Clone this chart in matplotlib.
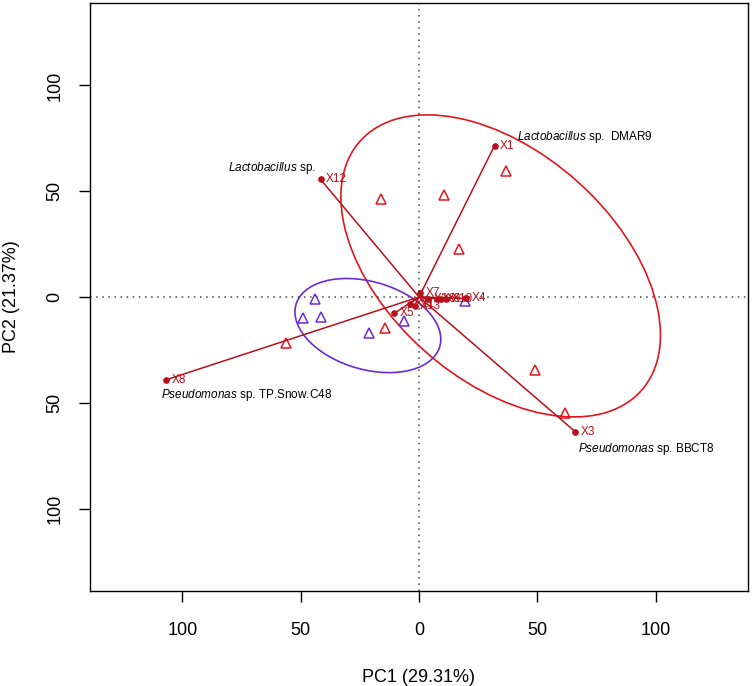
import numpy as np
import matplotlib
matplotlib.use("Agg")
import matplotlib.pyplot as plt
from matplotlib.patches import Ellipse

plt.rcParams['font.family'] = ['Liberation Sans', 'DejaVu Sans']
plt.rcParams['mathtext.fontset'] = 'custom'
plt.rcParams['mathtext.it'] = 'Liberation Sans:italic'
plt.rcParams['mathtext.rm'] = 'Liberation Sans'

# ---- data ----
var_names = ["X1", "X2", "X3", "X4", "X5", "X6", "X7", "X8", "X9", "X10", "X11", "X12", "X13"]
var_pc1 = [31.9, 4.0, 66.1, 19.9, -10.4, 7.4, 0.6, -107.0, 9.5, 11.6, -4.0, -41.6, -1.9]
var_pc2 = [71.5, -0.9, -63.8, -0.7, -7.7, -0.9, 1.9, -39.2, -0.9, -0.9, -3.3, 55.6, -4.3]

red_pc1 = [36.8, 10.5, -16.1, 17.1, -14.2, 48.9, 61.5, -56.1]
red_pc2 = [59.7, 48.2, 46.3, 22.7, -14.5, -34.5, -54.7, -21.7]
purple_pc1 = [-43.9, -49.1, -41.3, -21.2, -6.3, 19.6]
purple_pc2 = [-0.9, -9.8, -9.3, -17.2, -11.2, -1.7]

# ellipse summaries: centre x, centre y, semi-major, semi-minor, angle (deg)
red_ellipse = [34.5, 14.7, 84.0, 51.0, -48.5]
purple_ellipse = [-21.6, -13.5, 32.0, 20.5, -20.6]

species_genus = ["Lactobacillus", "Lactobacillus", "Pseudomonas", "Pseudomonas"]
species_rest = [" sp.  DMAR9", " sp.", " sp. TP.Snow.C48", " sp. BBCT8"]
species_x = [41.2, -43.7, -109.2, 67.1]
species_y = [75.8, 60.8, -46.3, -72.0]
species_ha = ["left", "right", "left", "left"]

ticks = [-100, -50, 0, 50, 100]
tick_labels = [str(abs(t)) for t in ticks]
xlab = "PC1 (29.31%)"
ylab = "PC2 (21.37%)"

# ---- styles ----
RED = "#E3161F"
DARKRED = "#B8101A"
PURPLE = "#6A2BD9"

fig = plt.figure(figsize=(7.52, 6.86), dpi=100)
ax = fig.add_axes([90/752, (686-591)/686, (748-90)/752, (591-3)/686])
ax.set_xlim(-139, 139)
ax.set_ylim(-139, 139)

ax.axhline(0, color="#444444", ls=(0, (1, 3)), lw=1.1, zorder=1)
ax.axvline(0, color="#444444", ls=(0, (1, 3)), lw=1.1, zorder=1)

for el, c in ((red_ellipse, RED), (purple_ellipse, PURPLE)):
    e = Ellipse((el[0], el[1]), 2*el[2], 2*el[3], angle=el[4],
                fill=False, edgecolor=c, lw=1.2, zorder=2)
    ax.add_patch(e)

ax.plot(red_pc1, red_pc2, ls="none", marker="^", ms=6.5, mfc="none",
        mec=RED, mew=1.1, zorder=3)
ax.plot(purple_pc1, purple_pc2, ls="none", marker="^", ms=6.5, mfc="none",
        mec=PURPLE, mew=1.1, zorder=3)

for n, x, y in zip(var_names, var_pc1, var_pc2):
    ax.plot([0, x], [0, y], color=DARKRED, lw=1.1, zorder=4)
    ax.plot([x], [y], marker="o", ms=3.8, color=DARKRED, zorder=5)
    ax.annotate(n, (x, y), xytext=(4, 0), textcoords="offset points",
                ha="left", va="center", color=DARKRED, fontsize=8.5, zorder=6)

for g, r, x, y, ha in zip(species_genus, species_rest, species_x, species_y, species_ha):
    ax.text(x, y, r"$\it{" + g + "}$" + r, ha=ha, va="center",
            fontsize=8.5, color="black")

ax.set_xticks(ticks)
ax.set_xticklabels(tick_labels)
ax.set_yticks(ticks)
ax.set_yticklabels(tick_labels, rotation=90, va="center")
ax.tick_params(axis="both", direction="out", length=8, width=1, labelsize=13,
               colors="black")
ax.tick_params(axis="x", pad=14)
ax.tick_params(axis="y", pad=11)
for s in ax.spines.values():
    s.set_linewidth(1.0)

ax.set_xlabel(xlab, fontsize=13, labelpad=22)
ax.set_ylabel(ylab, fontsize=13, labelpad=19)

fig.savefig("out.png", dpi=100)
